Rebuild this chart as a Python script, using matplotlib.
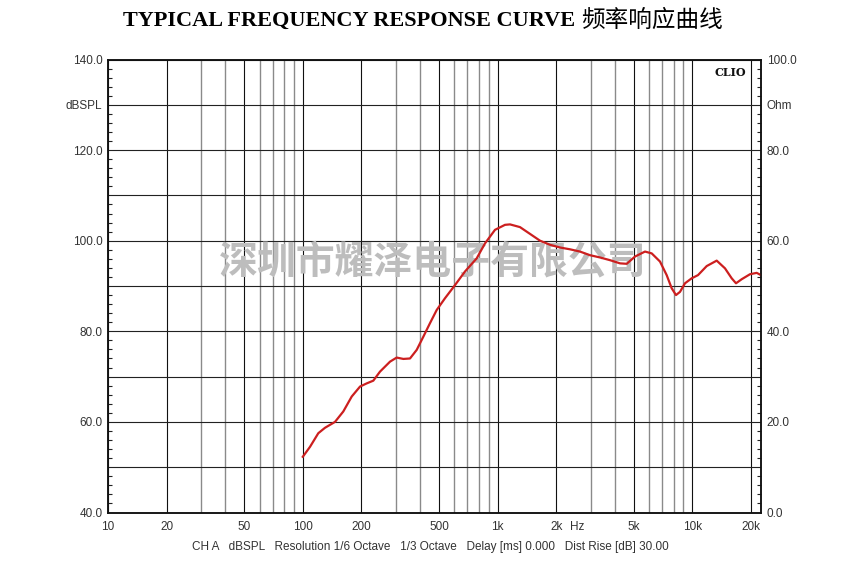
import matplotlib
matplotlib.use("Agg")
import matplotlib.pyplot as plt
import numpy as np

# ---- data ----
freq_hz = [100, 108.9, 120.1, 130, 146.3, 161.4, 178.3, 196.7, 212.8, 230.1,
           249.1, 280.4, 303.4, 328.1, 355.1, 384.4, 415.6, 449.8, 486.8, 537,
           604.4, 680.1, 781, 861.5, 969.8, 1091, 1158, 1303, 1467, 1651,
           1858, 2091, 2353, 2649, 2981, 3355, 3776, 4250, 4600, 5074,
           5711, 6181, 6818, 7379, 7829, 8237, 8636, 9162, 9917, 10685,
           11842, 13328, 14700, 15911, 16744, 17914, 19760, 21380, 22500]
spl_db = [52.3, 54.5, 57.5, 58.7, 60.0, 62.3, 65.6, 67.8, 68.5, 69.1,
          71.1, 73.3, 74.2, 73.9, 74.0, 75.9, 78.8, 81.8, 84.7, 87.3,
          90.2, 93.2, 96.1, 99.4, 102.4, 103.5, 103.6, 103.0, 101.5, 100.0,
          99.1, 98.5, 98.1, 97.6, 96.8, 96.3, 95.7, 95.0, 94.9, 96.5,
          97.6, 97.2, 95.4, 92.4, 89.5, 88.0, 88.7, 90.6, 91.7, 92.4,
          94.4, 95.6, 93.9, 91.7, 90.6, 91.5, 92.6, 92.9, 92.4]

x_major = [10, 20, 50, 100, 200, 500, 1000, 2000, 5000, 10000, 20000]
x_major_labels = ["10", "20", "50", "100", "200", "500", "1k", "2k", "5k", "10k", "20k"]
x_minor = [30, 40, 60, 70, 80, 90, 300, 400, 600, 700, 800, 900,
           3000, 4000, 6000, 7000, 8000, 9000]
left_ticks = [40, 50, 60, 70, 80, 90, 100, 110, 120, 130, 140]
left_labels = ["40.0", "", "60.0", "", "80.0", "", "100.0", "", "120.0", "dBSPL", "140.0"]
right_ticks = [0, 10, 20, 30, 40, 50, 60, 70, 80, 90, 100]
right_labels = ["0.0", "", "20.0", "", "40.0", "", "60.0", "", "80.0", "Ohm", "100.0"]

title_en = "TYPICAL FREQUENCY RESPONSE CURVE"
title_cn = "频率响应曲线"
watermark = "深圳市耀泽电子有限公司"
footer = "CH A   dBSPL   Resolution 1/6 Octave   1/3 Octave   Delay [ms] 0.000   Dist Rise [dB] 30.00"

W, H = 862, 575
fig = plt.figure(figsize=(W / 100, H / 100), dpi=100)
fig.patch.set_facecolor("white")
L, R, T, B = 108, 761, 59.5, 512.5
ax = fig.add_axes([L / W, 1 - B / H, (R - L) / W, (B - T) / H])
ax.set_xscale("log")
ax.set_xlim(10, 22500)
ax.set_ylim(40, 140)

lab_font = dict(family="Liberation Sans", size=8.5)
txtc = "#333333"

ax.set_xticks(x_major)
ax.set_xticklabels(x_major_labels, **lab_font, color=txtc)
ax.set_xticks(x_minor, minor=True)
ax.set_xticklabels([""] * len(x_minor), minor=True)
ax.tick_params(axis="x", which="both", length=0, pad=6)

ax.set_yticks(left_ticks)
ax.set_yticklabels(left_labels, **lab_font, color=txtc)
ax.set_yticks(np.arange(40, 141, 2), minor=True)
ax.tick_params(axis="y", which="major", length=0, pad=4)
ax.tick_params(axis="y", which="minor", direction="in", length=3, width=0.8, color="#222222")

ax.grid(True, which="major", axis="x", color="#111111", lw=0.8)
ax.grid(True, which="minor", axis="x", color="#8a8a8a", lw=1.0)
ax.grid(True, which="major", axis="y", color="#222222", lw=0.8)
ax.set_axisbelow(True)

ax2 = ax.twinx()
ax2.set_ylim(0, 100)
ax2.set_yticks(right_ticks)
ax2.set_yticklabels(right_labels, **lab_font, color=txtc)
ax2.set_yticks(np.arange(0, 101, 2), minor=True)
ax2.tick_params(axis="y", which="major", length=0, pad=4)
ax2.tick_params(axis="y", which="minor", direction="in", length=3, width=0.8, color="#222222")

for a in (ax, ax2):
    for s in a.spines.values():
        s.set_color("#111111")
        s.set_linewidth(1.1)

# watermark
ax.text(0.498, 0.553, watermark, transform=ax.transAxes, ha="center", va="center",
        family=["Noto Sans CJK SC", "DejaVu Sans"], fontsize=28, fontweight="bold",
        color="#bdbdbd", zorder=2)

ax.plot(freq_hz, spl_db, color="#cc1f1f", lw=1.6, zorder=3)

ax.text(0.977, 0.983, "CLIO", transform=ax.transAxes, ha="right", va="top",
        family="DejaVu Serif", fontsize=8, fontweight="bold", color="#111111")
fig.text(577 / W, 1 - 527 / H, "Hz", ha="center", va="center", **lab_font, color=txtc)

fig.text(575 / W, 1 - 21 / H, title_en, ha="right", va="center",
         family="Liberation Serif", fontsize=16, fontweight="bold", color="black")
fig.text(581 / W, 1 - 20 / H, title_cn, ha="left", va="center",
         family=["Noto Sans CJK SC", "DejaVu Sans"], fontsize=17, color="black")

fig.text(430 / W, 1 - 547 / H, footer, ha="center", va="center",
         family="Liberation Sans", fontsize=8.5, color=txtc)

fig.savefig("out.png", dpi=100, facecolor="white")
